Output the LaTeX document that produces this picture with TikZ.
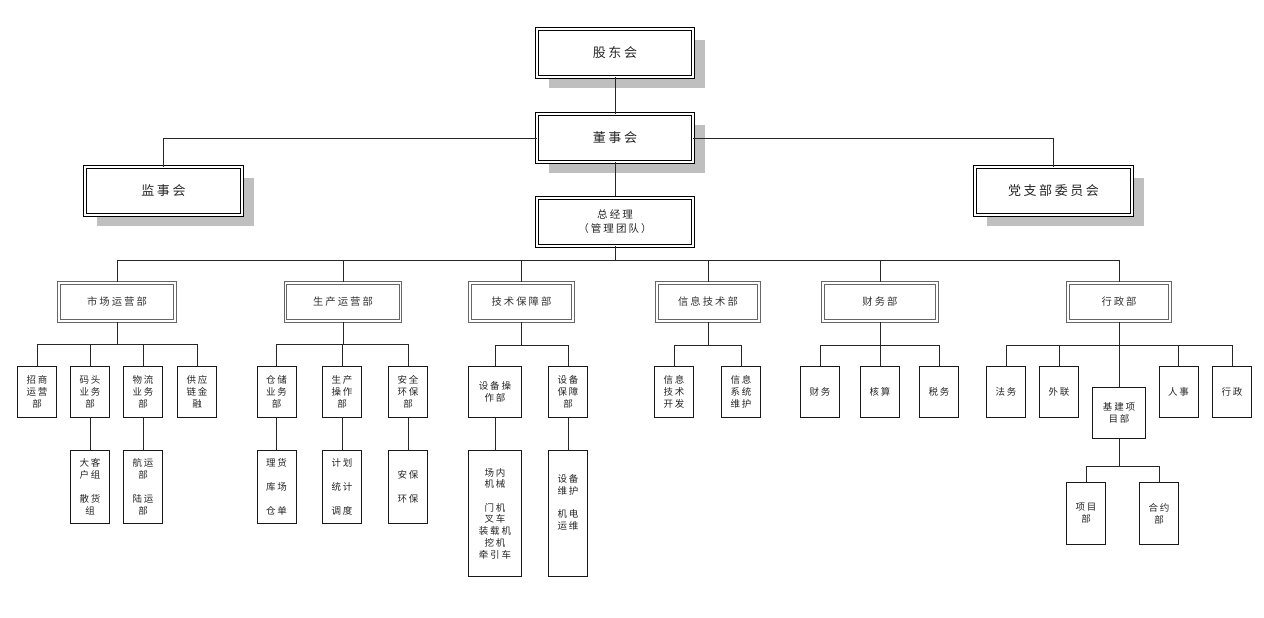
\documentclass[tikz,border=0pt]{standalone}
\usepackage{fontspec}
\newfontfamily\cjk[LetterSpace=20]{Noto Sans CJK SC}
\usetikzlibrary{shadows}
\begin{document}
\begin{tikzpicture}[x=1pt,y=-1pt,
  conn/.style={draw=black!85, line width=1pt},
  topbox/.style={draw=black, double=white, line width=0.9pt, double distance=1.8pt, fill=white,
    minimum width=156pt, minimum height=48pt, inner sep=0pt, align=center, text=black!85,
    font=\cjk\fontsize{13}{15}\selectfont},
  shadowed/.style={drop shadow={shadow xshift=12pt, shadow yshift=-11pt, fill=black!25, opacity=1}},
  deptbox/.style={draw=black!60, double=white, line width=1.4pt, double distance=1.1pt, fill=white,
    minimum height=38pt, inner sep=0pt, align=center, text=black!80,
    font=\cjk\fontsize{10.3}{12}\selectfont},
  leaf/.style={draw=black!90, line width=1pt, fill=white, inner sep=0pt, align=center, text=black!85,
    minimum width=39pt, minimum height=51pt, font=\cjk\fontsize{9.5}{12}\selectfont},
  tall/.style={leaf, minimum height=73pt}
]
\fill[white] (0,0) rectangle (1264,618);
\useasboundingbox (0,0) rectangle (1264,618);

% named bus coordinates
\coordinate (b0) at (615,260);
\coordinate (bm) at (117,344);
\coordinate (bp) at (343,344);
\coordinate (bt) at (521.5,345);
\coordinate (bi) at (708,345);
\coordinate (bf) at (880,345);
\coordinate (ba) at (1119,345);
\coordinate (bb) at (1119,466);

% top level
\node[topbox,shadowed] (gdh) at (615,53) {股东会};
\node[topbox,shadowed] (dsh) at (615,138) {董事会};
\node[topbox,shadowed,minimum width=157pt] (jsh) at (163.5,191) {监事会};
\node[topbox,shadowed,minimum width=157pt] (dzb) at (1053.5,191) {党支部委员会};

% connectors top
\draw[conn] (gdh.south) -- (dsh.north);
\draw[conn] (dsh.west) -| (jsh.north);
\draw[conn] (dsh.east) -| (dzb.north);
\draw[conn] (dsh.south) -- (615,196);

\node[topbox,font=\cjk\fontsize{10.5}{14}\selectfont] (zjl) at (615,222) {总经理\\（管理团队）};

% departments
\node[deptbox,minimum width=116pt] (scyy) at (117,302) {市场运营部};
\node[deptbox,minimum width=115pt] (scy) at (343,302) {生产运营部};
\node[deptbox,minimum width=103pt] (jsb) at (521.5,302) {技术保障部};
\node[deptbox,minimum width=102pt] (xxb) at (708,302) {信息技术部};
\node[deptbox,minimum width=114pt] (cwb) at (880,302) {财务部};
\node[deptbox,minimum width=102pt] (xzb) at (1119,302) {行政部};

\draw[conn] (zjl.south) -- (b0);
\foreach \d in {scyy,scy,jsb,xxb,cwb,xzb} { \draw[conn] (b0) -| (\d.north); }

% level 3
\node[leaf] (m1) at (37,392) {招商\\运营\\部};
\node[leaf] (m2) at (90,392) {码头\\业务\\部};
\node[leaf] (m3) at (143,392) {物流\\业务\\部};
\node[leaf] (m4) at (197,392) {供应\\链金\\融};
\node[leaf] (p1) at (276.5,392) {仓储\\业务\\部};
\node[leaf] (p2) at (342,392) {生产\\操作\\部};
\node[leaf] (p3) at (408,392) {安全\\环保\\部};
\node[leaf,minimum width=53pt] (t1) at (495,392) {设备操\\作部};
\node[leaf] (t2) at (568,392) {设备\\保障\\部};
\node[leaf] (i1) at (674,392) {信息\\技术\\开发};
\node[leaf] (i2) at (741,392) {信息\\系统\\维护};
\node[leaf] (f1) at (820,392) {财务};
\node[leaf] (f2) at (880,392) {核算};
\node[leaf] (f3) at (939,392) {税务};
\node[leaf] (a1) at (1006,392) {法务};
\node[leaf] (a2) at (1059,392) {外联};
\node[leaf,minimum width=53pt] (a3) at (1119,413) {基建项\\目部};
\node[leaf] (a4) at (1178.5,392) {人事};
\node[leaf] (a5) at (1232,392) {行政};

\draw[conn] (scyy.south) -- (bm);
\foreach \c in {m1,m2,m3,m4} { \draw[conn] (bm) -| (\c.north); }
\draw[conn] (scy.south) -- (bp);
\foreach \c in {p1,p2,p3} { \draw[conn] (bp) -| (\c.north); }
\draw[conn] (jsb.south) -- (bt);
\foreach \c in {t1,t2} { \draw[conn] (bt) -| (\c.north); }
\draw[conn] (xxb.south) -- (bi);
\foreach \c in {i1,i2} { \draw[conn] (bi) -| (\c.north); }
\draw[conn] (cwb.south) -- (bf);
\foreach \c in {f1,f2,f3} { \draw[conn] (bf) -| (\c.north); }
\draw[conn] (xzb.south) -- (ba);
\foreach \c in {a1,a2,a3,a4,a5} { \draw[conn] (ba) -| (\c.north); }

% level 4
\node[tall] (m2a) at (90,487) {大客\\户组\\[12pt]散货\\组};
\node[tall] (m3a) at (143,487) {航运\\部\\[12pt]陆运\\部};
\node[tall] (p1a) at (276.5,487) {理货\\[12pt]库场\\[12pt]仓单};
\node[tall] (p2a) at (342,487) {计划\\[12pt]统计\\[12pt]调度};
\node[tall] (p3a) at (408,487) {安保\\[12pt]环保};
\node[leaf,minimum width=53pt,minimum height=126pt,font=\cjk\fontsize{9.5}{11.7}\selectfont] (t1a) at (495,513.5) {场内\\机械\\[11.7pt]门机\\叉车\\装载机\\挖机\\牵引车};
\node[leaf,minimum height=126pt,font=\cjk\fontsize{9.5}{11.7}\selectfont] (t2a) at (568,513.5) {设备\\维护\\[11.7pt]机电\\运维\\[11.7pt]};
\node[leaf,minimum height=62pt] (a3a) at (1086,513.5) {项目\\部};
\node[leaf,minimum height=62pt] (a3b) at (1159,513.5) {合约\\部};

\draw[conn] (m2.south) -- (m2a.north);
\draw[conn] (m3.south) -- (m3a.north);
\draw[conn] (p1.south) -- (p1a.north);
\draw[conn] (p2.south) -- (p2a.north);
\draw[conn] (p3.south) -- (p3a.north);
\draw[conn] (t1.south) -- (t1a.north);
\draw[conn] (t2.south) -- (t2a.north);
\draw[conn] (a3.south) -- (bb);
\draw[conn] (bb) -| (a3a.north);
\draw[conn] (bb) -| (a3b.north);
\end{tikzpicture}
\end{document}
